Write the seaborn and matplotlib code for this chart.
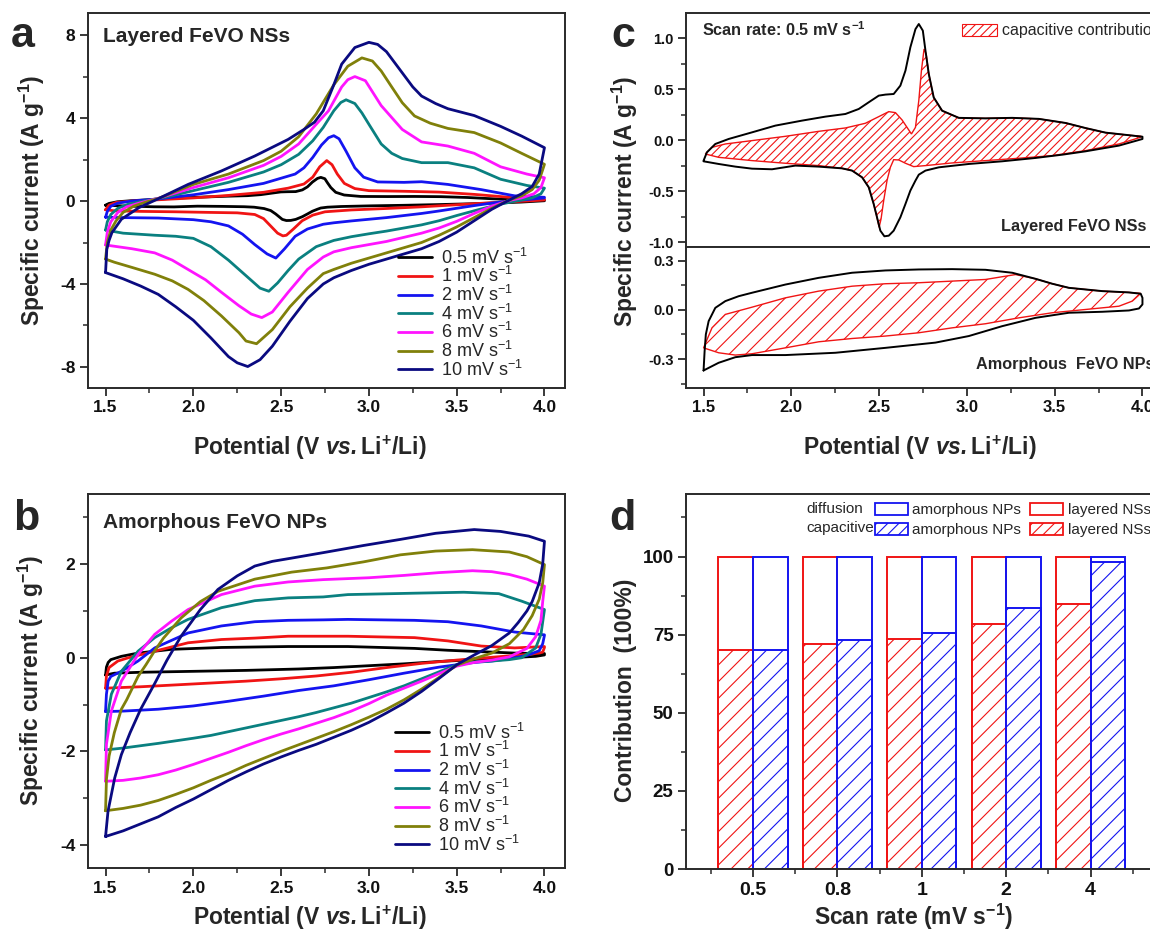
import numpy as np
import pandas as pd
import matplotlib
matplotlib.use("Agg")
import matplotlib.pyplot as plt
import seaborn as sns
from matplotlib.ticker import MultipleLocator, FixedLocator
from matplotlib.patches import Patch

sns.set_theme(style="ticks")
plt.rcParams["font.family"] = ["Liberation Sans", "DejaVu Sans"]
plt.rcParams["mathtext.fontset"] = "custom"
plt.rcParams["mathtext.rm"] = "Liberation Sans"
plt.rcParams["mathtext.it"] = "Liberation Sans:italic"
plt.rcParams["mathtext.bf"] = "Liberation Sans:bold"
plt.rcParams["mathtext.bfit"] = "Liberation Sans:italic:bold"
plt.rcParams["axes.unicode_minus"] = False
plt.rcParams["hatch.linewidth"] = 0.8

# ------------------------------------------------------------------ data
# (potential / V, specific current / A g-1), anodic sweep then cathodic sweep
C_LAY_TOT_UP = [(1.5,-0.2),(1.519,-0.118),(1.567,-0.036),(1.643,0.013),(1.776,0.078),(1.909,0.144),
                (2.061,0.193),(2.194,0.232),(2.308,0.258),(2.384,0.307),(2.441,0.373),(2.498,0.438),
                (2.536,0.448),(2.583,0.454),(2.621,0.536),(2.65,0.683),(2.678,0.912),(2.707,1.09),
                (2.726,1.14),(2.749,1.075),(2.764,0.879),(2.783,0.65),(2.811,0.42),(2.859,0.29),
                (2.954,0.22),(3.106,0.215),(3.258,0.22),(3.41,0.21),(3.562,0.17),(3.676,0.12),
                (3.79,0.075),(3.923,0.05),(4.0,0.035)]
C_LAY_TOT_DN = [(4.0,0.013),(3.866,-0.052),(3.676,-0.108),(3.543,-0.141),(3.391,-0.173),(3.2,-0.206),
                (3.011,-0.232),(2.84,-0.265),(2.764,-0.297),(2.726,-0.337),(2.707,-0.395),(2.678,-0.493),
                (2.65,-0.624),(2.621,-0.755),(2.583,-0.886),(2.555,-0.935),(2.53,-0.941),(2.507,-0.886),
                (2.488,-0.755),(2.469,-0.624),(2.441,-0.461),(2.403,-0.363),(2.346,-0.297),(2.289,-0.275),
                (2.156,-0.258),(2.023,-0.248),(1.89,-0.284),(1.776,-0.278),(1.681,-0.258),(1.586,-0.232),
                (1.5,-0.206)]
C_LAY_CAP_UP = [(1.51,-0.134),(1.548,-0.069),(1.624,-0.036),(1.776,-0.003),(1.966,0.039),(2.156,0.088),
                (2.308,0.121),(2.422,0.167),(2.498,0.232),(2.555,0.281),(2.593,0.271),(2.631,0.199),
                (2.665,0.111),(2.684,0.062),(2.707,0.127),(2.726,0.389),(2.741,0.683),(2.756,0.895),
                (2.768,0.846),(2.783,0.65),(2.811,0.42),(2.859,0.29),(2.954,0.22),(3.106,0.215),
                (3.258,0.22),(3.41,0.21),(3.562,0.17),(3.676,0.12),(3.79,0.075),(3.923,0.05),(3.99,0.04)]
C_LAY_CAP_DN = [(3.99,0.03),(3.866,-0.036),(3.676,-0.101),(3.486,-0.15),(3.296,-0.176),(3.106,-0.199),
                (2.916,-0.222),(2.764,-0.248),(2.697,-0.258),(2.65,-0.225),(2.612,-0.193),(2.583,-0.19),
                (2.564,-0.265),(2.545,-0.395),(2.526,-0.592),(2.511,-0.771),(2.5,-0.853),(2.488,-0.755),
                (2.469,-0.624),(2.441,-0.461),(2.403,-0.363),(2.346,-0.297),(2.289,-0.275),(2.156,-0.248),
                (1.966,-0.225),(1.776,-0.199),(1.586,-0.167),(1.51,-0.134)]
C_AM_TOT_UP = [(1.5,-0.37),(1.506,-0.252),(1.513,-0.15),(1.529,-0.069),(1.567,0.012),(1.624,0.053),
               (1.7,0.083),(1.776,0.104),(1.966,0.154),(2.156,0.195),(2.346,0.226),(2.536,0.24),
               (2.726,0.246),(2.916,0.248),(3.106,0.244),(3.258,0.226),(3.391,0.189),(3.486,0.159),
               (3.581,0.134),(3.771,0.114),(3.923,0.106),(3.99,0.098),(4.0,0.073)]
C_AM_TOT_DN = [(4.0,0.033),(3.98,0.008),(3.923,-0.004),(3.771,-0.012),(3.581,-0.018),(3.391,-0.049),
               (3.2,-0.1),(3.011,-0.16),(2.821,-0.2),(2.536,-0.232),(2.251,-0.262),(1.966,-0.276),
               (1.776,-0.276),(1.681,-0.289),(1.586,-0.323),(1.5,-0.37)]
C_AM_CAP_UP = [(1.5,-0.232),(1.548,-0.11),(1.624,-0.028),(1.776,0.016),(1.966,0.073),(2.156,0.114),
               (2.346,0.144),(2.536,0.159),(2.726,0.165),(2.916,0.175),(3.106,0.185),(3.22,0.205),
               (3.277,0.215),(3.391,0.189),(3.486,0.159),(3.581,0.134),(3.771,0.114),(3.923,0.106),
               (3.99,0.1)]
C_AM_CAP_DN = [(3.99,0.1),(3.942,0.053),(3.866,0.022),(3.676,0.002),(3.486,-0.018),(3.296,-0.049),
               (3.106,-0.085),(2.916,-0.11),(2.726,-0.14),(2.536,-0.16),(2.346,-0.175),(2.156,-0.195),
               (1.966,-0.232),(1.776,-0.268),(1.681,-0.276),(1.586,-0.262),(1.5,-0.232)]

# panel a : layered FeVO NSs
A_1_UP = [(1.5,-0.42),(1.52,-0.2),(1.56,-0.07),(1.65,0.0),(1.8,0.06),(2.0,0.15),(2.2,0.27),(2.4,0.42),
          (2.54,0.62),(2.63,0.82),(2.68,1.15),(2.72,1.65),(2.76,1.95),(2.79,1.75),(2.82,1.3),(2.86,0.85),
          (2.92,0.6),(3.0,0.5),(3.2,0.47),(3.4,0.43),(3.6,0.32),(3.8,0.18),(3.95,0.1),(4.0,0.08)]
A_1_DN = [(4.0,0.05),(3.9,0.0),(3.7,-0.08),(3.5,-0.18),(3.3,-0.28),(3.1,-0.36),(2.9,-0.43),(2.75,-0.52),
          (2.68,-0.68),(2.62,-0.95),(2.57,-1.35),(2.53,-1.65),(2.51,-1.68),(2.48,-1.55),(2.44,-1.2),
          (2.4,-0.85),(2.35,-0.65),(2.25,-0.57),(2.1,-0.55),(1.9,-0.52),(1.7,-0.5),(1.55,-0.47),(1.5,-0.42)]
A_2_UP = [(1.5,-0.78),(1.51,-0.5),(1.53,-0.25),(1.57,-0.1),(1.65,0.0),(1.8,0.1),(2.0,0.3),(2.2,0.55),
          (2.4,0.85),(2.5,1.1),(2.58,1.3),(2.63,1.6),(2.68,2.1),(2.73,2.7),(2.77,3.05),(2.8,3.15),
          (2.83,3.0),(2.87,2.4),(2.92,1.6),(2.97,1.15),(3.05,0.92),(3.2,0.9),(3.3,0.93),(3.45,0.8),
          (3.64,0.55),(3.83,0.25),(4.0,0.18)]
A_2_DN = [(4.0,0.15),(3.9,0.07),(3.8,0.0),(3.7,-0.1),(3.6,-0.22),(3.5,-0.35),(3.4,-0.48),(3.3,-0.6),
          (3.2,-0.7),(3.1,-0.8),(3.0,-0.88),(2.9,-0.96),(2.8,-1.05),(2.74,-1.12),(2.65,-1.35),(2.58,-1.7),
          (2.52,-2.3),(2.47,-2.75),(2.42,-2.55),(2.35,-2.1),(2.28,-1.6),(2.2,-1.2),(2.1,-1.0),(2.0,-0.9),
          (1.8,-0.82),(1.6,-0.8),(1.5,-0.78)]
A_4_UP = [(1.5,-1.4),(1.51,-1.0),(1.53,-0.65),(1.57,-0.35),(1.63,-0.15),(1.72,0.0),(1.85,0.2),(2.0,0.5),
          (2.2,0.9),(2.4,1.4),(2.5,1.75),(2.6,2.25),(2.68,2.9),(2.74,3.55),(2.8,4.35),(2.84,4.75),
          (2.87,4.88),(2.92,4.7),(2.96,4.25),(3.0,3.7),(3.07,2.75),(3.13,2.3),(3.19,2.05),(3.3,1.85),
          (3.45,1.85),(3.6,1.6),(3.75,1.05),(3.9,0.75),(4.0,0.62)]
A_4_DN = [(4.0,0.62),(3.98,0.35),(3.93,0.15),(3.85,0.02),(3.75,-0.15),(3.64,-0.38),(3.5,-0.7),(3.4,-0.95),
          (3.3,-1.15),(3.2,-1.3),(3.1,-1.45),(3.0,-1.58),(2.9,-1.72),(2.8,-1.9),(2.7,-2.2),(2.6,-2.8),
          (2.54,-3.35),(2.48,-3.95),(2.43,-4.35),(2.38,-4.2),(2.3,-3.6),(2.2,-2.85),(2.1,-2.2),(2.0,-1.8),
          (1.9,-1.7),(1.78,-1.65),(1.6,-1.55),(1.5,-1.4)]
A_6_UP = [(1.5,-2.12),(1.51,-1.5),(1.53,-1.0),(1.57,-0.55),(1.62,-0.28),(1.7,-0.08),(1.8,0.13),(2.0,0.65),
          (2.2,1.12),(2.4,1.72),(2.5,2.15),(2.6,2.75),(2.7,3.7),(2.77,4.35),(2.845,5.5),(2.88,5.85),
          (2.92,6.0),(2.98,5.8),(3.07,4.6),(3.19,3.45),(3.3,2.85),(3.45,2.65),(3.6,2.3),(3.75,1.65),
          (3.9,1.3),(4.0,1.12)]
A_6_DN = [(4.0,1.12),(3.98,0.65),(3.94,0.35),(3.87,0.15),(3.8,0.03),(3.7,-0.25),(3.6,-0.6),(3.5,-0.98),
          (3.4,-1.3),(3.3,-1.55),(3.2,-1.75),(3.1,-1.95),(3.0,-2.1),(2.9,-2.25),(2.8,-2.45),(2.74,-2.7),
          (2.65,-3.3),(2.54,-4.4),(2.45,-5.35),(2.39,-5.62),(2.33,-5.45),(2.26,-5.05),(2.16,-4.4),
          (2.07,-3.8),(1.97,-3.3),(1.88,-2.85),(1.78,-2.5),(1.65,-2.3),(1.5,-2.12)]
A_8_UP = [(1.5,-2.8),(1.51,-2.0),(1.53,-1.4),(1.56,-0.95),(1.6,-0.55),(1.66,-0.25),(1.73,-0.05),(1.8,0.12),
          (2.0,0.8),(2.2,1.3),(2.4,1.95),(2.5,2.4),(2.6,3.1),(2.7,4.2),(2.8,5.6),(2.88,6.5),(2.96,6.9),
          (3.02,6.75),(3.07,6.27),(3.13,5.5),(3.19,4.74),(3.26,4.1),(3.35,3.75),(3.45,3.5),(3.6,3.3),
          (3.75,2.8),(3.87,2.3),(4.0,1.77)]
A_8_DN = [(4.0,1.77),(3.97,1.0),(3.93,0.55),(3.87,0.25),(3.8,0.05),(3.7,-0.35),(3.6,-0.8),(3.5,-1.25),
          (3.4,-1.65),(3.3,-2.0),(3.2,-2.25),(3.1,-2.5),(3.0,-2.75),(2.9,-3.0),(2.8,-3.3),(2.74,-3.5),
          (2.65,-4.2),(2.55,-5.1),(2.45,-6.2),(2.36,-6.88),(2.3,-6.75),(2.26,-6.35),(2.16,-5.54),
          (2.06,-4.8),(1.97,-4.26),(1.88,-3.85),(1.78,-3.53),(1.65,-3.2),(1.55,-2.95),(1.5,-2.8)]
A_10_UP = [(1.5,-3.45),(1.507,-2.33),(1.52,-1.9),(1.536,-1.53),(1.59,-0.88),(1.69,-0.32),(1.78,0.03),
           (1.97,0.8),(2.16,1.45),(2.35,2.17),(2.54,2.97),(2.63,3.45),(2.69,3.8),(2.74,4.35),(2.8,5.6),
           (2.845,6.6),(2.92,7.4),(3.0,7.65),(3.05,7.55),(3.1,7.2),(3.19,6.18),(3.25,5.5),(3.3,5.06),
           (3.38,4.7),(3.45,4.45),(3.6,4.12),(3.75,3.6),(3.87,3.13),(4.0,2.57)]
A_10_DN = [(4.0,2.57),(3.97,1.3),(3.93,0.7),(3.87,0.35),(3.8,0.05),(3.7,-0.4),(3.6,-0.95),(3.5,-1.5),
           (3.4,-1.95),(3.3,-2.3),(3.2,-2.55),(3.1,-2.8),(3.0,-3.05),(2.9,-3.35),(2.8,-3.7),(2.74,-4.0),
           (2.65,-4.7),(2.55,-5.8),(2.45,-7.0),(2.38,-7.65),(2.31,-7.98),(2.25,-7.8),(2.2,-7.5),
           (2.1,-6.6),(2.0,-5.75),(1.9,-5.1),(1.8,-4.5),(1.7,-4.1),(1.6,-3.75),(1.5,-3.45)]

# panel b : amorphous FeVO NPs
B_05_UP = [(1.5,-0.37),(1.505,-0.2),(1.515,-0.1),(1.53,-0.04),(1.59,0.03),(1.685,0.1),(1.875,0.18),
           (2.16,0.22),(2.54,0.24),(2.88,0.24),(3.07,0.22),(3.26,0.2),(3.45,0.16),(3.64,0.13),
           (3.83,0.1),(3.95,0.09),(4.0,0.09)]
B_05_DN = [(4.0,0.06),(3.95,0.03),(3.8,0.0),(3.6,-0.04),(3.4,-0.08),(3.2,-0.13),(3.0,-0.17),(2.8,-0.21),
           (2.6,-0.24),(2.3,-0.27),(2.0,-0.29),(1.7,-0.31),(1.55,-0.33),(1.5,-0.37)]
B_1_UP = [(1.5,-0.65),(1.505,-0.39),(1.52,-0.21),(1.57,-0.07),(1.63,0.0),(1.78,0.14),(1.97,0.32),
          (2.16,0.39),(2.35,0.42),(2.54,0.46),(2.88,0.46),(3.26,0.43),(3.45,0.36),(3.64,0.25),
          (3.83,0.21),(4.0,0.24)]
B_1_DN = [(4.0,0.22),(3.99,0.12),(3.97,0.1),(3.9,0.07),(3.7,0.01),(3.5,-0.05),(3.3,-0.12),(3.1,-0.21),
          (2.9,-0.31),(2.7,-0.39),(2.5,-0.45),(2.3,-0.5),(2.1,-0.54),(1.9,-0.58),(1.7,-0.62),(1.5,-0.65)]
B_2_UP = [(1.5,-1.15),(1.505,-0.78),(1.515,-0.5),(1.53,-0.4),(1.59,-0.29),(1.685,-0.07),(1.78,0.21),
          (1.97,0.53),(2.16,0.68),(2.35,0.77),(2.54,0.8),(2.74,0.81),(2.88,0.82),(3.26,0.8),(3.45,0.77),
          (3.64,0.68),(3.83,0.55),(4.0,0.49)]
B_2_DN = [(4.0,0.48),(3.99,0.3),(3.97,0.15),(3.9,0.05),(3.8,-0.02),(3.7,-0.07),(3.6,-0.1),(3.5,-0.15),
          (3.4,-0.2),(3.2,-0.33),(3.0,-0.47),(2.8,-0.6),(2.6,-0.7),(2.4,-0.82),(2.2,-0.93),(2.0,-1.03),
          (1.8,-1.1),(1.6,-1.14),(1.5,-1.15)]
B_4_UP = [(1.5,-1.97),(1.505,-1.35),(1.533,-0.78),(1.59,-0.29),(1.685,0.14),(1.78,0.43),(1.875,0.64),
          (1.97,0.82),(2.16,1.07),(2.35,1.22),(2.54,1.28),(2.74,1.3),(2.88,1.35),(3.26,1.38),
          (3.54,1.4),(3.74,1.37),(3.87,1.21),(4.0,1.03)]
B_4_DN = [(4.0,1.03),(3.98,0.5),(3.95,0.21),(3.87,0.0),(3.8,-0.04),(3.7,-0.07),(3.6,-0.09),(3.5,-0.15),
          (3.4,-0.3),(3.3,-0.45),(3.2,-0.6),(3.1,-0.73),(3.0,-0.85),(2.9,-0.97),(2.8,-1.07),(2.7,-1.17),
          (2.6,-1.26),(2.5,-1.34),(2.4,-1.42),(2.3,-1.5),(2.2,-1.58),(2.1,-1.66),(2.0,-1.72),
          (1.8,-1.83),(1.6,-1.93),(1.5,-1.97)]
B_6_UP = [(1.5,-2.64),(1.505,-1.85),(1.533,-1.14),(1.59,-0.5),(1.685,0.07),(1.78,0.5),(1.875,0.78),
          (1.97,1.03),(2.16,1.35),(2.35,1.53),(2.54,1.62),(2.74,1.67),(3.0,1.71),(3.2,1.76),(3.4,1.82),
          (3.59,1.86),(3.7,1.84),(3.8,1.78),(3.9,1.68),(4.0,1.53)]
B_6_DN = [(4.0,1.53),(3.99,1.2),(3.98,0.8),(3.95,0.45),(3.9,0.2),(3.8,0.02),(3.7,-0.05),(3.6,-0.1),
          (3.5,-0.18),(3.4,-0.34),(3.3,-0.5),(3.2,-0.65),(3.1,-0.8),(3.0,-0.98),(2.9,-1.14),(2.8,-1.28),
          (2.7,-1.4),(2.6,-1.52),(2.5,-1.63),(2.4,-1.75),(2.3,-1.88),(2.2,-2.02),(2.1,-2.15),(2.0,-2.28),
          (1.9,-2.4),(1.8,-2.5),(1.7,-2.57),(1.6,-2.62),(1.5,-2.64)]
B_8_UP = [(1.5,-3.27),(1.505,-2.6),(1.52,-2.1),(1.55,-1.6),(1.59,-1.1),(1.62,-0.9),(1.685,-0.4),
          (1.73,-0.15),(1.78,0.15),(1.83,0.42),(1.93,0.85),(2.04,1.2),(2.14,1.42),(2.35,1.68),
          (2.56,1.83),(2.76,1.92),(2.97,2.05),(3.18,2.2),(3.38,2.28),(3.59,2.31),(3.8,2.26),
          (3.9,2.16),(4.0,1.99)]
B_8_DN = [(4.0,1.99),(3.99,1.6),(3.97,1.25),(3.93,0.9),(3.88,0.6),(3.8,0.3),(3.7,0.1),(3.6,-0.02),
          (3.5,-0.16),(3.4,-0.42),(3.3,-0.67),(3.2,-0.9),(3.1,-1.1),(3.0,-1.27),(2.9,-1.43),(2.8,-1.58),
          (2.7,-1.72),(2.6,-1.86),(2.5,-2.0),(2.4,-2.15),(2.3,-2.3),(2.2,-2.47),(2.1,-2.62),(2.0,-2.78),
          (1.9,-2.92),(1.8,-3.05),(1.7,-3.15),(1.6,-3.22),(1.5,-3.27)]
B_10_UP = [(1.5,-3.82),(1.514,-3.28),(1.552,-2.57),(1.59,-2.07),(1.64,-1.6),(1.7,-1.1),(1.78,-0.55),
           (1.85,-0.05),(1.93,0.46),(2.04,1.03),(2.14,1.46),(2.25,1.75),(2.35,1.96),(2.45,2.06),
           (2.56,2.13),(2.76,2.26),(2.97,2.4),(3.18,2.53),(3.38,2.66),(3.6,2.74),(3.75,2.7),
           (3.91,2.6),(4.0,2.49)]
B_10_DN = [(4.0,2.49),(3.99,2.0),(3.97,1.6),(3.93,1.2),(3.9,1.0),(3.85,0.75),(3.8,0.53),(3.7,0.26),
           (3.6,0.06),(3.5,-0.15),(3.4,-0.44),(3.3,-0.72),(3.2,-0.97),(3.1,-1.18),(3.0,-1.38),(2.9,-1.55),
           (2.8,-1.7),(2.7,-1.85),(2.6,-1.98),(2.5,-2.12),(2.4,-2.27),(2.3,-2.44),(2.2,-2.62),(2.1,-2.82),
           (2.0,-3.02),(1.9,-3.2),(1.8,-3.4),(1.7,-3.55),(1.6,-3.7),(1.5,-3.82)]

SCAN_RATES = ["0.5", "1", "2", "4", "6", "8", "10"]
CV_COLORS = ["#000000", "#f01414", "#1414f0", "#0a8080", "#ff14ff", "#80800a", "#0a0a80"]

# panel d
RATES_D = ["0.5", "0.8", "1", "2", "4"]
LAYERED_CAP = [70.0, 72.1, 73.6, 78.3, 84.7]
AMORPH_CAP = [70.0, 73.2, 75.5, 83.6, 98.3]
TOTAL = [100, 100, 100, 100, 100]

# ------------------------------------------------------------------ layout
W, H = 1150, 930
fig = plt.figure(figsize=(W / 100, H / 100), dpi=100)

def box(l, t, w, h):
    return [l / W, 1 - (t + h) / H, w / W, h / H]

ax_a = fig.add_axes(box(88, 13.3, 477, 374.4))
ax_b = fig.add_axes(box(88, 494, 477, 374.3))
ax_c1 = fig.add_axes(box(686, 13.3, 477, 233.7))
ax_c2 = fig.add_axes(box(686, 247, 477, 140.7))
ax_d = fig.add_axes(box(686, 494, 477, 375))

SPINE = "#2a2a2a"
XLABEL = r"Potential (V $\mathbfit{vs.}$Li$^{\mathbf{+}}$/Li)"
YLABEL = r"Specific current (A g$^{\mathbf{-1}}$)"


def style(ax, xmaj, xmin, ymaj, ymin, fsx, fsy):
    if xmaj is not None:
        ax.xaxis.set_major_locator(MultipleLocator(xmaj))
        ax.xaxis.set_minor_locator(MultipleLocator(xmin))
    ax.yaxis.set_major_locator(MultipleLocator(ymaj))
    ax.yaxis.set_minor_locator(MultipleLocator(ymin))
    ax.tick_params(which="major", direction="out", length=6, width=1.3, color=SPINE,
                   top=False, right=False, pad=3)
    ax.tick_params(which="minor", direction="out", length=3.5, width=1.1, color=SPINE,
                   top=False, right=False)
    ax.tick_params(axis="x", labelsize=fsx)
    ax.tick_params(axis="y", labelsize=fsy)
    for s in ax.spines.values():
        s.set_linewidth(1.4)
        s.set_color(SPINE)
    ax.grid(False)


def bold_ticks(ax):
    plt.setp(ax.get_xticklabels(), fontweight="bold", color="#111")
    plt.setp(ax.get_yticklabels(), fontweight="bold", color="#111")


def set_xlabel(ax, text, y, x):
    ax.set_xlabel(text, fontsize=16.5, fontweight="bold")
    ax.xaxis.label.set_va("baseline")
    ax.xaxis.set_label_coords(x, y)


def set_ylabel(ax, text, x, y):
    ax.set_ylabel(text, fontsize=16.5, fontweight="bold")
    ax.yaxis.label.set_va("center")
    ax.yaxis.set_label_coords(x, y)


def loop(ax, up, dn, color, lw, label=None):
    pts = np.array(list(up) + list(dn), dtype=float)
    df = pd.DataFrame({"V": pts[:, 0], "I": pts[:, 1]})
    sns.lineplot(data=df, x="V", y="I", sort=False, estimator=None, color=color, lw=lw,
                 label=label, ax=ax, solid_joinstyle="round", solid_capstyle="round")


LEG_KW = dict(loc="upper left", frameon=False, prop={"size": 13}, handlelength=1.9,
              handletextpad=0.5, labelspacing=-0.08, borderpad=0, borderaxespad=0)

# ------------------------------------------------------------------ panel a
a_loops = [(C_LAY_TOT_UP, C_LAY_TOT_DN), (A_1_UP, A_1_DN), (A_2_UP, A_2_DN), (A_4_UP, A_4_DN),
           (A_6_UP, A_6_DN), (A_8_UP, A_8_DN), (A_10_UP, A_10_DN)]
for (up, dn), c, r in zip(a_loops, CV_COLORS, SCAN_RATES):
    loop(ax_a, up, dn, c, 2.0, label=r + r" mV s$^{-1}$")
ax_a.set_xlim(1.40, 4.117)
ax_a.set_ylim(-9.0, 9.05)
style(ax_a, 0.5, 0.25, 4, 2, 12.5, 12.5)
set_xlabel(ax_a, XLABEL, -0.18, 0.465)
set_ylabel(ax_a, YLABEL, -0.117, 0.5)
ax_a.text(0.0314, 0.924, "Layered FeVO NSs", transform=ax_a.transAxes, fontsize=15,
          fontweight="bold", ha="left", va="baseline")
ax_a.legend(bbox_to_anchor=(0.65, 0.374), **LEG_KW)

# ------------------------------------------------------------------ panel b
b_loops = [(B_05_UP, B_05_DN), (B_1_UP, B_1_DN), (B_2_UP, B_2_DN), (B_4_UP, B_4_DN),
           (B_6_UP, B_6_DN), (B_8_UP, B_8_DN), (B_10_UP, B_10_DN)]
for (up, dn), c, r in zip(b_loops, CV_COLORS, SCAN_RATES):
    loop(ax_b, up, dn, c, 2.0, label=r + r" mV s$^{-1}$")
ax_b.set_xlim(1.40, 4.117)
ax_b.set_ylim(-4.5, 3.5)
style(ax_b, 0.5, 0.25, 2, 1, 12.5, 12.5)
set_xlabel(ax_b, XLABEL, -0.150, 0.465)
set_ylabel(ax_b, YLABEL, -0.1195, 0.503)
ax_b.text(0.0314, 0.908, "Amorphous FeVO NPs", transform=ax_b.transAxes, fontsize=15,
          fontweight="bold", ha="left", va="baseline")
ax_b.legend(bbox_to_anchor=(0.6426, 0.389), **LEG_KW)

# ------------------------------------------------------------------ panel c
def poly(ax, up, dn, hatch):
    pts = np.array(list(up) + list(dn), dtype=float)
    ax.fill(pts[:, 0], pts[:, 1], facecolor="none", edgecolor="#f01414", hatch=hatch, lw=1.0,
            zorder=1)

poly(ax_c1, C_LAY_CAP_UP, C_LAY_CAP_DN, "////")
loop(ax_c1, C_LAY_TOT_UP, C_LAY_TOT_DN, "black", 1.4)
poly(ax_c2, C_AM_CAP_UP, C_AM_CAP_DN, "//")
loop(ax_c2, C_AM_TOT_UP, C_AM_TOT_DN, "black", 1.4)
for ax in (ax_c1, ax_c2):
    ax.set_xlim(1.40, 4.117)
    leg = ax.get_legend()
    if leg is not None:
        leg.remove()
ax_c1.set_ylim(-1.046, 1.245)
ax_c2.set_ylim(-0.475, 0.383)
style(ax_c1, 0.5, 0.25, 0.5, 0.25, 12, 10.5)
style(ax_c2, 0.5, 0.25, 0.3, 0.15, 12, 10.5)
ax_c1.tick_params(labelbottom=False)
ax_c1.set_xlabel("")
ax_c1.set_ylabel("")
ax_c2.set_ylabel("")
set_xlabel(ax_c2, XLABEL, -0.478, 0.49)
fig.text(625 / W, 1 - 201 / H, YLABEL, rotation=90, fontsize=16.5, fontweight="bold",
         ha="center", va="center")
ax_c1.text(0.0335, 0.904, r"Scan rate: 0.5 mV s$^{\mathbf{-1}}$", transform=ax_c1.transAxes,
           fontsize=11.7, fontweight="bold", ha="left", va="baseline")
ax_c1.text(0.66, 0.0697, "Layered FeVO NSs", transform=ax_c1.transAxes, fontsize=11.7,
           fontweight="bold", ha="left", va="baseline")
ax_c2.text(0.609, 0.135, "Amorphous  FeVO NPs", transform=ax_c2.transAxes, fontsize=11.7,
           fontweight="bold", ha="left", va="baseline")
ax_c1.legend(handles=[Patch(facecolor="none", edgecolor="#f01414", hatch="////", lw=0.8,
                            label="capacitive contribution")],
             loc="upper left", bbox_to_anchor=(0.578, 0.957), frameon=False,
             prop={"size": 11.5}, handlelength=2.2, handleheight=0.75, handletextpad=0.3,
             borderpad=0, borderaxespad=0)

# ------------------------------------------------------------------ panel d
mat = ["layered NSs"] * 5 + ["amorphous NPs"] * 5
df_tot = pd.DataFrame({"rate": RATES_D * 2, "material": mat, "value": TOTAL + TOTAL})
df_cap = pd.DataFrame({"rate": RATES_D * 2, "material": mat, "value": LAYERED_CAP + AMORPH_CAP})
pal = {"layered NSs": "#f01414", "amorphous NPs": "#1414f0"}
sns.barplot(data=df_tot, x="rate", y="value", hue="material", order=RATES_D,
            hue_order=["layered NSs", "amorphous NPs"], palette=pal, fill=False, width=0.82,
            linewidth=1.4, errorbar=None, legend=False, ax=ax_d)
n_before = len(ax_d.patches)
sns.barplot(data=df_cap, x="rate", y="value", hue="material", order=RATES_D,
            hue_order=["layered NSs", "amorphous NPs"], palette=pal, fill=False, width=0.82,
            linewidth=1.4, errorbar=None, legend=False, ax=ax_d)
for p in ax_d.patches[n_before:]:
    p.set_hatch("//")
ax_d.set_xlim(-0.794, 4.858)
ax_d.set_ylim(0, 120)
style(ax_d, None, None, 25, 12.5, 14, 13.5)
ax_d.xaxis.set_minor_locator(FixedLocator([-0.5, 0.5, 1.5, 2.5, 3.5, 4.5]))
set_xlabel(ax_d, r"Scan rate (mV s$^{\mathbf{-1}}$)", -0.149, 0.477)
set_ylabel(ax_d, "Contribution  (100%)", -0.1268, 0.477)
ax_d.text(0.253, 0.96, "diffusion", transform=ax_d.transAxes, fontsize=11, ha="left",
          va="center")
ax_d.text(0.253, 0.909, "capacitive", transform=ax_d.transAxes, fontsize=11, ha="left",
          va="center")
d_handles = [Patch(facecolor="none", edgecolor="#1414f0", lw=1.3),
             Patch(facecolor="none", edgecolor="#1414f0", hatch="///", lw=1.3),
             Patch(facecolor="none", edgecolor="#f01414", lw=1.3),
             Patch(facecolor="none", edgecolor="#f01414", hatch="///", lw=1.3)]
ax_d.legend(handles=d_handles,
            labels=["amorphous NPs", "amorphous NPs", "layered NSs", "layered NSs"],
            ncol=2, loc="upper left", bbox_to_anchor=(0.396, 0.976), frameon=False,
            prop={"size": 11}, handlelength=2.15, handleheight=0.8, handletextpad=0.3,
            columnspacing=0.6, labelspacing=0.38, borderpad=0, borderaxespad=0)

for ax in (ax_a, ax_b, ax_c1, ax_c2, ax_d):
    bold_ticks(ax)

# panel letters
for letter, x, y in (("a", 11, 47), ("b", 13, 530), ("c", 611, 47), ("d", 609, 530)):
    fig.text(x / W, 1 - y / H, letter, fontsize=31, fontweight="bold", ha="left",
             va="baseline")

fig.savefig("out.png", dpi=100)
